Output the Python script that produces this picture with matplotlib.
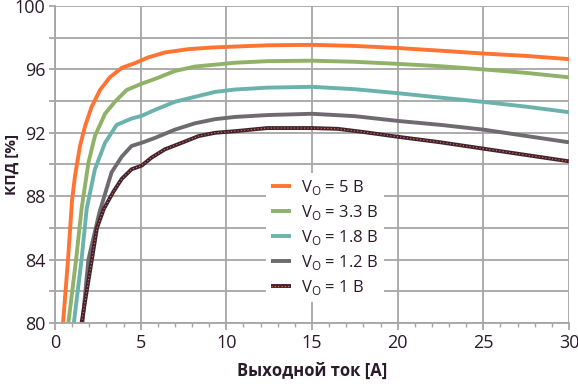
import matplotlib
matplotlib.use("Agg")
import matplotlib.pyplot as plt
from matplotlib.ticker import MultipleLocator

plt.rcParams['font.family'] = ['Open Sans', 'DejaVu Sans']

# Data
x5 = [0.47, 0.76, 1.0, 1.17, 1.46, 1.75, 2.14, 2.63, 3.2, 3.9, 4.67, 5.45, 6.42, 7.8, 9.14, 10.5,
      12.4, 15.0, 17.5, 20.0, 22.5, 25.0, 27.5, 30.0]
y5 = [80.0, 84.0, 87.8, 89.3, 91.17, 92.4, 93.65, 94.7, 95.5, 96.1, 96.4, 96.76, 97.07, 97.28, 97.38, 97.44,
      97.52, 97.55, 97.48, 97.35, 97.18, 97.0, 96.85, 96.65]

x33 = [0.78, 1.23, 1.55, 1.95, 2.33, 2.92, 3.5, 4.18, 5.06, 5.84, 7.0, 8.17, 9.34, 10.5,
       12.4, 15.0, 17.5, 20.0, 22.5, 25.0, 27.5, 30.0]
y33 = [80.0, 84.0, 87.2, 90.1, 91.8, 93.2, 93.96, 94.7, 95.1, 95.4, 95.9, 96.18, 96.3, 96.42,
       96.52, 96.55, 96.48, 96.35, 96.2, 96.0, 95.78, 95.5]

x18 = [1.1, 1.55, 1.85, 2.33, 2.92, 3.6, 4.47, 5.06, 5.84, 7.0, 8.17, 9.34, 10.5,
       12.4, 15.0, 17.5, 20.0, 22.5, 25.0, 27.5, 30.0]
y18 = [80.0, 84.0, 87.2, 89.7, 91.37, 92.5, 92.9, 93.07, 93.45, 93.96, 94.27, 94.58, 94.73,
       94.85, 94.9, 94.75, 94.5, 94.22, 93.95, 93.65, 93.3]

x12 = [1.6, 1.95, 2.6, 3.3, 3.9, 4.47, 5.06, 5.84, 7.0, 8.17, 9.34, 10.5,
       12.4, 15.0, 17.5, 20.0, 22.5, 25.0, 27.5, 30.0]
y12 = [80.0, 84.0, 87.0, 89.5, 90.5, 91.17, 91.37, 91.68, 92.2, 92.6, 92.86, 93.0,
       93.12, 93.2, 93.05, 92.75, 92.5, 92.2, 91.8, 91.4]

x1 = [1.55, 2.15, 2.45, 2.85, 3.4, 3.9, 4.47, 5.06, 5.64, 6.42, 7.4, 8.37, 9.34, 10.5,
      12.4, 15.0, 16.5, 18.0, 20.0, 22.5, 25.0, 27.5, 30.0]
y1 = [80.0, 84.0, 86.0, 87.2, 88.27, 89.1, 89.7, 89.93, 90.44, 90.96, 91.37, 91.79, 92.0, 92.1,
      92.3, 92.3, 92.25, 92.05, 91.75, 91.4, 91.0, 90.6, 90.2]

labels = ["V$_\\mathregular{O}$ = 5 В", "V$_\\mathregular{O}$ = 3.3 В", "V$_\\mathregular{O}$ = 1.8 В",
          "V$_\\mathregular{O}$ = 1.2 В", "V$_\\mathregular{O}$ = 1 В"]

fig = plt.figure(figsize=(5.78, 3.84), dpi=100)
ax = fig.add_axes([55/578, 1-323/384, (569-55)/578, (323-6)/384])

grid_c = '#a6a6a6'
lw = 2.8
l5, = ax.plot(x5, y5, color='#ff7433', lw=lw, solid_capstyle='butt', solid_joinstyle='round')
l33, = ax.plot(x33, y33, color='#8fb268', lw=lw, solid_capstyle='butt', solid_joinstyle='round')
l18, = ax.plot(x18, y18, color='#6bb2ac', lw=lw, solid_capstyle='butt', solid_joinstyle='round')
l12, = ax.plot(x12, y12, color='#6f6a70', lw=lw, solid_capstyle='butt', solid_joinstyle='round')
l1a, = ax.plot(x1, y1, color='#3e2333', lw=lw, solid_capstyle='butt', solid_joinstyle='round')
l1b, = ax.plot(x1, y1, color='#ff7433', lw=0.8, ls=(0, (1, 2)))

ax.set_xlim(0, 30)
ax.set_ylim(80, 100)
ax.xaxis.set_major_locator(MultipleLocator(5))
ax.xaxis.set_minor_locator(MultipleLocator(1))
ax.yaxis.set_major_locator(MultipleLocator(4))
ax.yaxis.set_minor_locator(MultipleLocator(2))
ax.grid(True, which='major', axis='x', color=grid_c, lw=1.3)
ax.grid(True, which='both', axis='y', color=grid_c, lw=1.3)
ax.set_axisbelow(True)
for s in ax.spines.values():
    s.set_visible(False)
for side in ('bottom', 'left'):
    ax.spines[side].set_visible(True)
    ax.spines[side].set_color(grid_c)
    ax.spines[side].set_linewidth(1.3)

txt_c = '#2b1a2b'
ax.tick_params(axis='x', which='major', length=5, width=1.3, color=grid_c, labelsize=13, labelcolor=txt_c, pad=3)
ax.tick_params(axis='x', which='minor', length=3, width=1.0, color=grid_c)
ax.tick_params(axis='y', which='both', length=4, width=1.3, color=grid_c, labelsize=13, labelcolor=txt_c, pad=3)

ax.set_xlabel("Выходной ток [A]", fontsize=12, fontweight='bold', color=txt_c, labelpad=7)
ax.set_ylabel("КПД [%]", fontsize=11, fontweight='bold', color=txt_c)
ax.yaxis.set_label_coords((19 - 55) / 514, 0.5)

leg = ax.legend([l5, l33, l18, l12, (l1a, l1b)], labels,
                loc='upper left', bbox_to_anchor=((258-55)/514, (323-165)/317),
                frameon=True, fontsize=12, handlelength=1.2, handletextpad=0.6,
                labelspacing=0.35, borderpad=0.3, labelcolor=txt_c)
leg.get_frame().set_facecolor('white')
leg.get_frame().set_edgecolor('none')
leg.get_frame().set_alpha(1.0)
leg.get_frame().set_boxstyle('square', pad=0)

fig.savefig("out.png", dpi=100)
